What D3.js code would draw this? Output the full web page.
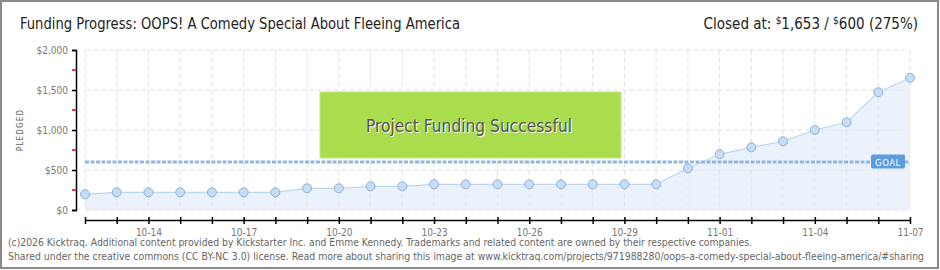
<!DOCTYPE html>
<head>
<meta charset="utf-8">
<style>
body { margin: 0; background: #fff; }
svg { display: block; font-family: "DejaVu Sans Condensed", "Liberation Sans Narrow", sans-serif; }
.grid line { stroke: #e2e2e2; stroke-dasharray: 5,3; }
.yaxis text, .xaxis text { fill: #777; font-size: 10px; font-family: "DejaVu Sans Condensed", sans-serif; }
.foot { fill: #666; font-size: 10px; }
</style>
</head>
<body>
<svg width="940" height="270"></svg>
<script src="https://d3js.org/d3.v7.min.js"></script>
<script>
// pledged total per day
var days = ["10-12","10-13","10-14","10-15","10-16","10-17","10-18","10-19","10-20","10-21",
  "10-22","10-23","10-24","10-25","10-26","10-27","10-28","10-29","10-30","10-31",
  "11-01","11-02","11-03","11-04","11-05","11-06","11-07"];
var pledged = [196,221,221,221,221,221,221,271,271,296,
  296,321,321,321,321,321,321,321,321,521,
  696,783,858,1000,1096,1471,1653];
var dayLabels = ["10-14","10-17","10-20","10-23","10-26","10-29","11-01","11-04","11-07"];
var yTicks = [0,500,1000,1500,2000];
var yMinor = [250,750,1250,1750];
var goal = 600;

var parse = d3.utcParse("%Y-%m-%d");
var data = days.map(function(d, i) { return {date: parse("2025-" + d), v: pledged[i]}; });

var svg = d3.select("svg");

var x = d3.scaleUtc()
    .domain(d3.extent(data, function(d) { return d.date; }))
    .range([85, 910]);
var y = d3.scaleLinear().domain([0, 2000]).range([210, 50]);

// frame
svg.append("rect").attr("x", 1).attr("y", 1).attr("width", 937).attr("height", 267)
  .attr("fill", "none").attr("stroke", "#8a8a8a").attr("stroke-width", 2);

// title
svg.append("text").attr("x", 20).attr("y", 29).attr("font-size", 16).attr("fill", "#222")
  .attr("textLength", 440).attr("lengthAdjust", "spacingAndGlyphs")
  .text("Funding Progress: OOPS! A Comedy Special About Fleeing America");

var closedAt = svg.append("text").attr("x", 918).attr("y", 29).attr("text-anchor", "end")
  .attr("font-size", 15).attr("fill", "#222");
closedAt.append("tspan").text("Closed at:  ");
closedAt.append("tspan").attr("font-size", 10).attr("dy", -5).text("$");
closedAt.append("tspan").attr("dy", 5).text("1,653 /  ");
closedAt.append("tspan").attr("font-size", 10).attr("dy", -5).text("$");
closedAt.append("tspan").attr("dy", 5).text("600 (275%)");

// grid
var grid = svg.append("g").attr("class", "grid");
grid.selectAll(".v").data(data).enter().append("line")
  .attr("x1", function(d) { return x(d.date); }).attr("x2", function(d) { return x(d.date); })
  .attr("y1", y(2000)).attr("y2", y(0));
grid.selectAll(".h").data(yTicks).enter().append("line")
  .attr("x1", x.range()[0]).attr("x2", x.range()[1])
  .attr("y1", function(d) { return y(d); }).attr("y2", function(d) { return y(d); });

// success box
var box = svg.append("g");
box.append("rect").attr("x", 320).attr("y", 92).attr("width", 301).attr("height", 66)
  .attr("fill", "#a9dd4d").attr("stroke", "#c3e87e").attr("stroke-width", 1);
box.append("text").attr("x", 469).attr("y", 132).attr("text-anchor", "middle")
  .attr("font-size", 18).attr("fill", "#fff").attr("dx", 1).attr("dy", 1)
  .attr("textLength", 206).attr("lengthAdjust", "spacingAndGlyphs")
  .text("Project Funding Successful");
box.append("text").attr("x", 469).attr("y", 132).attr("text-anchor", "middle")
  .attr("font-size", 18).attr("fill", "#555")
  .attr("textLength", 206).attr("lengthAdjust", "spacingAndGlyphs")
  .text("Project Funding Successful");

// area + line
var area = d3.area().x(function(d) { return x(d.date); }).y0(y(0)).y1(function(d) { return y(d.v); });
var line = d3.line().x(function(d) { return x(d.date); }).y(function(d) { return y(d.v); });
svg.append("path").datum(data).attr("d", area).attr("fill", "#dfeafa").attr("fill-opacity", 0.6);
svg.append("path").datum(data).attr("d", line).attr("fill", "none").attr("stroke", "#bcd6f2").attr("stroke-width", 1.2);

// goal line
svg.append("line").attr("x1", x.range()[0]).attr("x2", x.range()[1])
  .attr("y1", y(goal)).attr("y2", y(goal))
  .attr("stroke", "#93b6df").attr("stroke-width", 3).attr("stroke-dasharray", "4,1.5");

// points
svg.selectAll(".pt").data(data).enter().append("circle")
  .attr("cx", function(d) { return x(d.date); }).attr("cy", function(d) { return y(d.v); })
  .attr("r", 4.5).attr("fill", "#c5ddf7").attr("stroke", "#92afd3").attr("stroke-width", 1);

// goal tag
var tag = svg.append("g");
tag.append("rect").attr("x", 871).attr("y", y(goal) - 7.5).attr("width", 34).attr("height", 14)
  .attr("rx", 2).attr("fill", "#5b9be0");
tag.append("text").attr("x", 888).attr("y", y(goal) + 3.5).attr("text-anchor", "middle")
  .attr("font-size", 9.5).attr("fill", "#fff").attr("letter-spacing", 0.5).text("GOAL");

// y axis
var yAxis = svg.append("g").attr("class", "yaxis").attr("transform", "translate(76,0)")
  .call(d3.axisLeft(y).tickValues(yTicks).tickSize(4).tickPadding(4)
    .tickFormat(function(d) { return "$" + d3.format(",")(d); }));
yAxis.select(".domain").attr("stroke", "#000").attr("stroke-width", 1.5);
yAxis.selectAll(".tick line").attr("stroke", "#000").attr("stroke-width", 1.5);
yAxis.selectAll(".minor").data(yMinor).enter().append("line").attr("class", "minor")
  .attr("x1", -4).attr("x2", 0)
  .attr("y1", function(d) { return y(d); }).attr("y2", function(d) { return y(d); })
  .attr("stroke", "#e00").attr("stroke-width", 1.5);

svg.append("text").attr("transform", "translate(23,130) rotate(-90)").attr("text-anchor", "middle")
  .attr("font-size", 8).attr("fill", "#666").attr("letter-spacing", 1.2).text("PLEDGED");

// x axis
var xAxis = svg.append("g").attr("class", "xaxis").attr("transform", "translate(0,220)")
  .call(d3.axisBottom(x).tickValues(data.map(function(d) { return d.date; }))
    .tickSize(0).tickPadding(9)
    .tickFormat(function(d) { var s = d3.utcFormat("%m-%d")(d); return dayLabels.indexOf(s) >= 0 ? s : ""; }));
xAxis.select(".domain").attr("stroke", "#000").attr("stroke-width", 1.5);
xAxis.selectAll(".tick").append("line").attr("y1", -3).attr("y2", 4)
  .attr("stroke", "#000").attr("stroke-width", 1.5);

// footer
svg.append("text").attr("class", "foot").attr("x", 8).attr("y", 246)
  .attr("textLength", 744).attr("lengthAdjust", "spacingAndGlyphs")
  .text("(c)2026 Kicktraq. Additional content provided by Kickstarter Inc. and Emme Kennedy. Trademarks and related content are owned by their respective companies.");
svg.append("text").attr("class", "foot").attr("x", 8).attr("y", 260)
  .attr("textLength", 916).attr("lengthAdjust", "spacingAndGlyphs")
  .text("Shared under the creative commons (CC BY-NC 3.0) license. Read more about sharing this image at www.kicktraq.com/projects/971988280/oops-a-comedy-special-about-fleeing-america/#sharing");
</script>
</body>
